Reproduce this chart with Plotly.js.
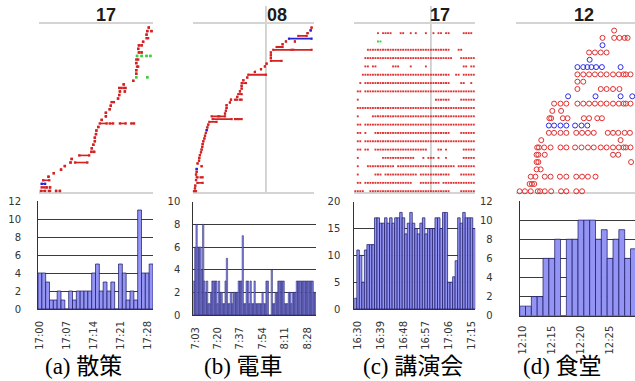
<!DOCTYPE html>
<html><head><meta charset="utf-8">
<script src="https://cdn.plot.ly/plotly-3.0.1.min.js"></script>
<style>html,body{margin:0;padding:0;background:#fff;}#chart{width:635px;height:381px;}</style>
</head><body><div id="chart"></div>
<script>
// ================= DATA =================
// Panel (a) 散策  (detections: [start min, end min, device row]; minutes from 17:00)
const aHour = '17';
const aCaption = '(a) 散策';
const aRedSeg = [
 [0.5,1.6,0],[2.6,2.9,0],[4.5,4.5,0],[5.5,5.5,0],
 [0.7,1.4,1],[2.0,2.0,1],[2.9,2.9,1],
 [1.1,2.7,3],[2.5,2.5,4],[3.9,3.9,5],[5.8,5.8,6],[6.8,6.8,7],
 [8.3,8.3,8],[9.5,12.7,8],[8.6,8.6,9],[10.6,13.2,10],
 [13.8,13.8,11],[14.5,14.5,11],[13.9,13.9,12],[14.3,14.3,13],[14.7,14.7,14],[14.7,14.7,15],
 [15.0,15.0,16],[15.1,15.1,17],[15.6,15.6,18],
 [16.0,17.8,19],[18.6,19.5,19],[21.3,22.8,19],[24.3,25.0,19],
 [16.5,16.5,20],[17.6,17.6,21],[17.6,17.6,22],[18.6,18.6,23],[18.9,18.9,24],[19.1,19.7,25],
 [20.8,20.8,26],[21.1,21.1,27],[21.3,21.3,28],[22.6,22.6,28],[21.1,21.7,29],[22.3,22.8,29],
 [22.3,22.3,30],[24.8,24.8,31],[25.6,25.6,33],[25.6,25.6,34],[25.8,26.1,35],[25.6,25.6,36],
 [25.6,26.1,37],[26.3,26.3,39],[27.0,27.0,39],[26.1,26.1,40],[26.3,26.3,41],[27.0,27.0,41],
 [27.4,27.4,42],[28.3,28.7,43],[28.3,28.3,44],[28.5,28.5,45],[29.6,29.6,45],[28.9,28.9,46]
];
const aGreenSeg = [[25.6,25.6,32],[28.5,28.5,32],[25.8,25.8,38],[27.0,27.0,38],[28.3,28.3,38],[29.3,29.3,38]];
const aBlueSeg = [[0.7,1.6,2]];
const aBarValues = [4,4,3,1,1,2,1,0,2,1,2,2,2,2,4,5,2,3,2,3,0,5,4,1,2,1,11,4,4,5];
const aTickIdx = [0,7,14,21,28];
const aTickText = ['17:00','17:07','17:14','17:21','17:28'];

// Panel (b) 電車  (minutes from 7:00)
const bHour = '08';
const bHourLine = 60;
const bCaption = '(b) 電車';
const bRedSeg = [
 [4.6,6.2,0],[5.4,5.4,1],[5.6,5.6,2],[7.2,11.3,3],[6.2,6.2,4],[6.7,7.4,5],[9.7,11.3,5],
 [6.2,6.2,6],[6.7,6.7,7],[10.5,10.5,9],[7.4,7.4,10],[8.5,8.5,11],[8.7,8.7,12],[9.2,9.2,13],
 [10.0,10.0,14],[10.5,10.5,15],[11.0,11.0,16],[11.3,11.3,17],[11.8,11.8,18],[12.6,12.6,19],
 [13.1,13.1,20],[13.8,13.8,21],[14.9,14.9,23],[15.6,15.6,24],[16.4,22.0,25],
 [19.0,33.6,26],[36.2,37.9,26],[39.4,41.3,26],[18.2,23.3,27],[24.1,28.5,27],
 [28.5,28.5,28],[29.2,29.2,29],[29.7,29.7,30],[29.7,29.7,31],[32.3,32.3,32],
 [33.1,33.1,33],[36.2,37.9,33],[40.0,41.3,33],[37.9,37.9,34],[38.7,41.3,35],[40.0,40.0,36],
 [41.3,41.3,37],[41.3,41.3,38],[41.3,44.6,39],[42.6,42.6,40],[45.6,45.6,41],[46.4,60.0,42],
 [51.5,51.5,43],[56.2,56.2,44],[59.2,59.2,45],[60.5,60.5,46],[63.8,72.0,47],[63.8,63.8,48],
 [63.8,63.8,49],[63.8,63.8,50],[65.6,79.7,51],[81.0,95.1,51],[68.2,72.8,52],[72.8,72.8,53],
 [75.4,75.4,54],[82.3,82.3,54],[84.9,91.3,56],[92.0,92.0,57],[95.1,95.1,59]
];
const bBlueSeg = [[6.7,6.7,8],[14.4,14.4,22],[77.7,95.1,55],[94.4,94.4,58]];
const bBarValues = [3,6,8,6,6,6,4,8,3,2, 3,1,1,2,3,3,3,3,1,3, 2,2,1,1,3,5,1,1,2,1,
 2,2,2,2,3,3,3,7,1,1, 3,3,1,3,1,1,3,1,1,1, 1,1,2,1,1,3,3,0,0,4,
 1,1,2,2,3,3,3,3,3,1, 1,1,2,2,1,2,2,2,3,3, 3,3,3,3,3,3,3,3,3,3, 3,2,2];
const bTickIdx = [1,18,35,52,69,86];
const bTickText = ['7:03','7:20','7:37','7:54','8:11','8:28'];

// Panel (c) 講演会  (one column per minute from 16:29; r = red, g = green detection)
const cHour = '17';
const cHourLine = 30;
const cCaption = '(c) 講演会';
const cRows = [
 'rrrr..rrrr|rrrrrrrrrr|rrrrrrrrrr|rrrrrrrr..|..rrrrrr',
 '.rr.rrrrrr|rrrrrrrrrr|rrr...rrrr|rrrr.rrrrr|rrrrrrrr',
 '.r......rr|r.rrrrrrrr|rrrrr.rrrr|rrrrrrrr..|..rrrrrr',
 '.r...rrrrr|rrrrrr.rrr|rrrrrrrrrr|rrrrrrrrrr|.rrrrrrr',
 '.r........|.rrrrrrrrr|rrrr...r.r|rr.r..r...|...rrrrr',
 '.rr.rr..rr|rrrrrrrrrr|rrrrrrrrr.|...rr.r...|...rrrrr',
 '.rr.rrrrrr|rrrrrrrrrr|rrrrrrrrrr|rrrrrrrrrr|rrrrrrrr',
 '.rr.r...rr|rrrrrrrrrr|rrrrrrrrrr|rrrrrrrr..|..rrrrrr',
 '.rr.rrrrrr|rrrrrrrrrr|rrrrrrrrrr|rrrrrrrrrr|rrrrrrrr',
 '.r.....rrr|rrrrrrrrrr|rrrrrrrrrr|rrrrrrrrrr|rrrrrrrr',
 '.rrrrrrrrr|rrrrrrrrrr|rrrrrrrrrr|rrrrrrrrrr|rrrrrrrr',
 '.r........|..........|..........|..rrrrrr..|..rrrrrr',
 '.rr.rrrrrr|rrrrrrrrrr|rrrrrrrrrr|rrrrrrrrrr|rrrrrrrr',
 '..r.rrrrrr|rrrrrrrrrr|rrrrrrrrrr|rrrrrrrr..|..rr..r.',
 '...rrrrrrr|rrrrrrrrrr|rrrrrrrrrr|rrrrrrrr..|rr.rrrrr',
 '....rr.rr.|.....rrr..|..r.....r.|..........|...rr.rr',
 '....rrrrrr|rrrrrrrrrr|rrrrrrrrrr|rrrrrrrrr.|..rrrrrr',
 '.....rrrrr|rrrrrrrrrr|rrrrrrrrrr|rrrrrrrr..|.rr.....',
 '.........g|g.........|..........|..........|........',
 '.........r|.rrrr...rr|..r.r...r.|.r.rr.rr..|...rrrr.'
];
const cBarValues = [2,11,10,5,11,12,12,12,17,17,16,16,17,16,17,16,17,17,18,17,14,16,18,16,
 15,14,16,17,14,15,15,15,17,17,15,18,18,5,5,6,9,17,16,18,17,17,17,15];
const cTickIdx = [1,10,19,28,37,46];
const cTickText = ['16:30','16:39','16:48','16:57','17:06','17:15'];

// Panel (d) 食堂  (minutes from 12:10; one list of detection times per device row)
const dHour = '12';
const dCaption = '(d) 食堂';
const dRedTimes = [
 [-0.5,0.4,1.4,2.6,3.0,3.8,4.9,6.6,7.5,9.2,10.2],
 [1.2,1.6,2.0],
 [1.4,2.2,3.8,4.8,6.4,7.5,9.2,10.2,11.2,12.5],
 [2.4,3.1],
 [2.4,2.7,18.6],
 [2.4,2.7,3.8,15.5,16.4],
 [2.5,2.8,3.7,4.8,6.5,7.5,9.0,10.1,11.2,12.2,13.4,14.4,15.5,16.5,17.3,17.7,18.5],
 [3.2,16.8],
 [4.5,5.4,6.5,7.5,9.2,10.2,11.2,12.2,14.6,15.5,16.4,17.5,18.4],
 [],
 [4.6,4.9,6.9,7.7,10.5,11.4,12.8,13.6],
 [5.1,6.6],
 [5.4,6.5,7.5,9.4,10.4,11.4,12.4,13.4,14.4,15.5,16.5,17.3,17.7,18.5],
 [],
 [9.4,13.4,14.4,15.5,16.6],
 [9.4,10.4],
 [9.4,10.4,11.4,12.4,13.4,14.4,15.5,16.5,17.3,17.7,18.5],
 [],
 [],
 [11.4,12.4,13.4,14.4],
 [],
 [13.7,15.7,16.6,17.5,18.0],
 [15.7]
];
const dBlueTimes = [
 [],[],[],[],[],[],[],[],[],
 [4.5,5.4,6.5,7.5,9.0,10.1,11.1],
 [],[],[],
 [7.8,12.5,16.8,18.8],
 [],[],[],
 [9.4,10.4,11.1,11.8,12.6,13.6,16.8],
 [11.5],
 [],
 [13.7],
 [],[]
];
const dBarValues = [1,1,2,2,6,6,8,0,8,8,10,10,10,8,9,6,8,9,6,7];
const dTickIdx = [0,5,10,15];
const dTickText = ['12:10','12:15','12:20','12:25'];

// ================= STYLE / LAYOUT =================
const W = 635, H = 381;
const fx = p => p / W;
const fy = p => 1 - p / H;
const RED = '#d42222', BLUE = '#2323d8', GREEN = '#3ccf3c';
const BAR_FILL = '#9494f5', BAR_LINE = '#161660';
const TICKFONT = {family: 'DejaVu Sans, Liberation Sans, sans-serif', size: 10, color: '#333'};

function segTrace(segs, color, xa, ya, lw, ms) {
  const x = [], y = [];
  segs.forEach(s => { x.push(s[0], s[1], null); y.push(s[2], s[2], null); });
  return {type: 'scatter', mode: 'lines+markers', x, y, xaxis: xa, yaxis: ya,
    line: {color, width: lw}, marker: {symbol: 'square', size: ms, color},
    cliponaxis: false, hoverinfo: 'skip', showlegend: false};
}
function patternTrace(rows, ch, color, xa, ya) {
  const x = [], y = [];
  rows.forEach((s, r) => { const t = s.replace(/\|/g, ''); for (let i = 0; i < t.length; i++) if (t[i] === ch) { x.push(i); y.push(r); } });
  return {type: 'scatter', mode: 'markers', x, y, xaxis: xa, yaxis: ya,
    marker: {symbol: 'square', size: 1.9, color}, cliponaxis: false, hoverinfo: 'skip', showlegend: false};
}
function circleTrace(times, color, xa, ya) {
  const x = [], y = [];
  times.forEach((arr, r) => arr.forEach(t => { x.push(t); y.push(r); }));
  return {type: 'scatter', mode: 'markers', x, y, xaxis: xa, yaxis: ya,
    marker: {symbol: 'circle-open', size: 5, color, line: {width: 1, color}}, cliponaxis: false, hoverinfo: 'skip', showlegend: false};
}
function barTrace(vals, xa, ya, lw) {
  return {type: 'bar', x: vals.map((_, i) => i), y: vals, xaxis: xa, yaxis: ya,
    marker: {color: BAR_FILL, line: {color: BAR_LINE, width: lw}}, hoverinfo: 'skip', showlegend: false};
}

const traces = [
  segTrace(aRedSeg, RED, 'x', 'y', 1.6, 2.4),
  segTrace(aGreenSeg, GREEN, 'x', 'y', 1.6, 2.4),
  segTrace(aBlueSeg, BLUE, 'x', 'y', 1.6, 2.4),
  barTrace(aBarValues, 'x2', 'y2', 0.7),
  segTrace(bRedSeg, RED, 'x3', 'y3', 1.8, 2.2),
  segTrace(bBlueSeg, BLUE, 'x3', 'y3', 1.8, 2.2),
  barTrace(bBarValues, 'x4', 'y4', 0.5),
  patternTrace(cRows, 'r', '#e03434', 'x5', 'y5'),
  patternTrace(cRows, 'g', GREEN, 'x5', 'y5'),
  barTrace(cBarValues, 'x6', 'y6', 0.7),
  circleTrace(dRedTimes, '#e23030', 'x7', 'y7'),
  circleTrace(dBlueTimes, '#2e2ee2', 'x7', 'y7'),
  barTrace(dBarValues, 'x8', 'y8', 0.7)
];

function scatterX(a, b, range, anchor) {
  return {domain: [fx(a), fx(b)], range, anchor, showline: true, mirror: true, linecolor: '#d4d4d4', linewidth: 2,
    showgrid: false, zeroline: false, showticklabels: false, ticks: '', layer: 'below traces', fixedrange: true};
}
function scatterY(range, anchor) {
  return {domain: [fy(192), fy(24)], range, anchor, visible: false, fixedrange: true};
}
function barX(a, b, range, anchor, vals, text, standoff) {
  return {domain: [fx(a), fx(b)], range, anchor, tickmode: 'array', tickvals: vals, ticktext: text, tickangle: -90,
    showline: true, linecolor: '#333', linewidth: 1, ticks: '', showgrid: false, zeroline: false,
    tickfont: TICKFONT, ticklabelstandoff: standoff, fixedrange: true};
}
function barY(top, bot, max, dtick, anchor, standoff) {
  return {domain: [fy(bot), fy(top)], range: [0, max], dtick, anchor, showline: true, linecolor: '#333', linewidth: 1,
    showgrid: true, gridcolor: '#3a3a3a', gridwidth: 1, zeroline: false, ticks: '', tickfont: TICKFONT,
    ticklabelstandoff: standoff, fixedrange: true};
}

function title(txt, px) {
  return {text: '<b>' + txt + '</b>', xref: 'paper', yref: 'paper', x: fx(px), y: fy(15), xanchor: 'center', yanchor: 'middle',
    showarrow: false, font: {family: 'Liberation Sans, Arial, sans-serif', size: 18, color: '#1c1c1c'}};
}
function caption(txt, px) {
  return {text: txt, xref: 'paper', yref: 'paper', x: fx(px), y: fy(366), xanchor: 'center', yanchor: 'middle',
    showarrow: false, font: {family: 'Liberation Serif, "Noto Sans CJK JP", serif', size: 23, color: '#000'}};
}
function hourLine(xref, xv) {
  return {type: 'line', xref, yref: 'paper', x0: xv, x1: xv, y0: fy(194), y1: fy(6), layer: 'below',
    line: {color: '#c6c6c6', width: 1.5}};
}

const layout = {
  width: W, height: H, margin: {l: 0, r: 0, t: 0, b: 0}, paper_bgcolor: '#fff', plot_bgcolor: '#fff',
  bargap: 0, showlegend: false,
  xaxis: scatterX(39, 153, [0, 30], 'y'),
  yaxis: scatterY([-0.3, 47.0], 'x'),
  xaxis2: barX(38, 153, [-0.5, aBarValues.length - 0.5], 'y2', aTickIdx, aTickText, 7),
  yaxis2: barY(201, 309, 12, 2, 'x2', 14),
  xaxis3: scatterX(193.3, 314.3, [4.1, 97.2], 'y3'),
  yaxis3: scatterY([-0.3, 60.3], 'x3'),
  xaxis4: barX(193.3, 316, [-0.5, bBarValues.length - 0.5], 'y4', bTickIdx, bTickText, 7),
  yaxis4: barY(201.7, 315, 10, 2, 'x4', 10),
  xaxis5: scatterX(354, 475.3, [-0.5, 47.6], 'y5'),
  yaxis5: scatterY([-0.1, 20.1], 'x5'),
  xaxis6: barX(354.3, 475.3, [-0.5, cBarValues.length - 0.5], 'y6', cTickIdx, cTickText, 7),
  yaxis6: barY(201.7, 309, 20, 5, 'x6', 11),
  xaxis7: scatterX(516, 635, [-1.13, 19.27], 'y7'),
  yaxis7: scatterY([-0.1, 22.9], 'x7'),
  xaxis8: barX(519.7, 635, [-0.5, 19.27], 'y8', dTickIdx, dTickText, 5),
  yaxis8: barY(201, 315.7, 12, 2, 'x8', 24),
  shapes: [hourLine('x3', bHourLine), hourLine('x5', cHourLine)],
  annotations: [
    title(aHour, 106), title(bHour, 277), title(cHour, 440), title(dHour, 584),
    caption(aCaption, 83), caption(bCaption, 243), caption(cCaption, 413), caption(dCaption, 562)
  ]
};

Plotly.newPlot('chart', traces, layout, {staticPlot: true, displayModeBar: false});
</script></body></html>
